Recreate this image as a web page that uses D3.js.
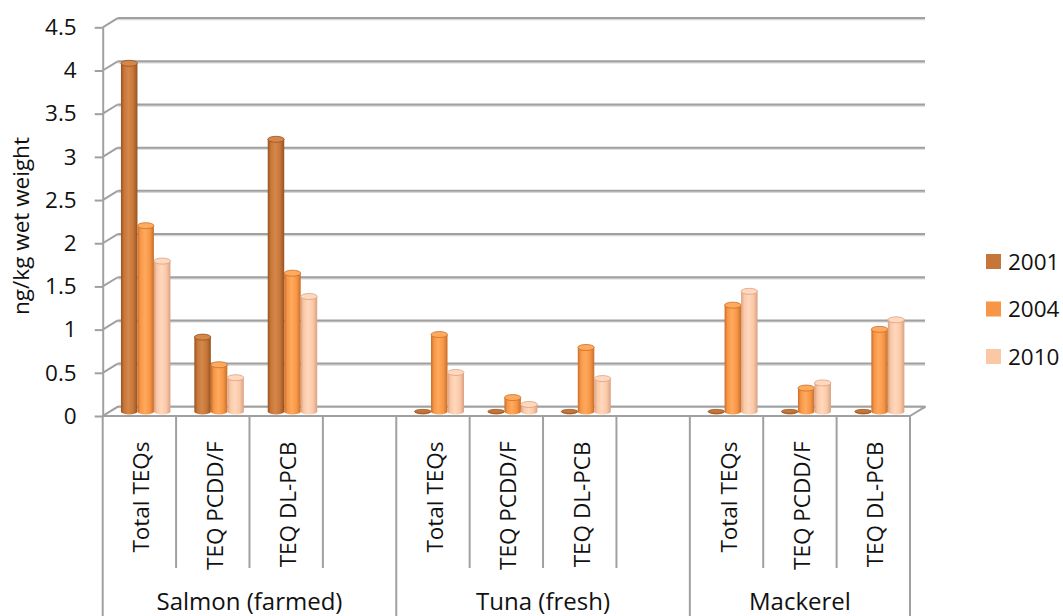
<!DOCTYPE html>
<html>
<head>
<meta charset="utf-8">
<script src="https://cdn.jsdelivr.net/npm/d3@7"></script>
<style>
  html, body { margin: 0; padding: 0; background: #fff; }
  svg { display: block; font-family: "Open Sans", "Liberation Sans", sans-serif; }
</style>
</head>
<body>
<svg id="chart" width="1063" height="616"></svg>
<script>
// ---- data ----
const groups = ["Salmon (farmed)", "Tuna (fresh)", "Mackerel"];
const measures = ["Total TEQs", "TEQ PCDD/F", "TEQ DL-PCB"];
const years = ["2001", "2004", "2010"];
// values in measure order for Salmon, Tuna, Mackerel (ng/kg wet weight)
const values2001 = [4.03, 0.86, 3.15, 0, 0, 0, 0, 0, 0];
const values2004 = [2.15, 0.54, 1.60, 0.89, 0.16, 0.74, 1.23, 0.27, 0.95];
const values2010 = [1.74, 0.39, 1.33, 0.45, 0.08, 0.38, 1.39, 0.33, 1.06];
const yTicks = [0, 0.5, 1, 1.5, 2, 2.5, 3, 3.5, 4, 4.5];
const yTitle = "ng/kg wet weight";

const seriesValues = [values2001, values2004, values2010];
const colors = ["#C67639", "#F79646", "#FBC8A6"];
const edgeColors = ["#96521F", "#C96E2A", "#D8A183"];
const lightColors = ["#D5874A", "#FFAA5E", "#FFD8BE"];

// ---- layout ----
const svg = d3.select("#chart");
const x0 = 102.7, x1 = 910;        // front floor edge
const yBase = 416;                 // front floor y
const DX = 15, DY = 9.2;           // depth of the back wall
const plotH = 388.7;               // height of 4.5 units

// category slots: each group's measures, with a blank slot between groups
const slots = [];
groups.forEach((g, gi) => {
  measures.forEach((m, mi) => slots.push({ key: g + "|" + m, group: g, measure: m, idx: gi * 3 + mi }));
  if (gi < groups.length - 1) slots.push({ key: g + "|", group: g, measure: null, idx: -1 });
});

const x = d3.scaleBand().domain(slots.map(s => s.key)).range([x0, x1]).padding(0);
const h = d3.scaleLinear().domain([0, 4.5]).range([0, plotH]);
const yFront = d3.scaleLinear().domain([0, 4.5]).range([yBase, yBase - plotH]);
const yBack = v => yBase - DY - h(v);

const gridColor = "#A0A0A0";

// back wall gridlines and side diagonals
const grid = svg.append("g");
yTicks.forEach(v => {
  grid.append("line")
    .attr("x1", x0 + DX).attr("x2", x1 + DX)
    .attr("y1", yBack(v) + 1.4).attr("y2", yBack(v) + 1.4)
    .attr("stroke", "#D6D6D6").attr("stroke-width", 1.6);
  grid.append("line")
    .attr("x1", x0 + DX).attr("x2", x1 + DX)
    .attr("y1", yBack(v)).attr("y2", yBack(v))
    .attr("stroke", gridColor).attr("stroke-width", 2);
  grid.append("line")
    .attr("x1", x0).attr("y1", yFront(v))
    .attr("x2", x0 + DX).attr("y2", yBack(v))
    .attr("stroke", gridColor).attr("stroke-width", 2);
});

// floor
svg.append("path")
  .attr("d", `M${x0},${yBase} L${x1},${yBase} L${x1 + DX},${yBase - DY} L${x0 + DX},${yBase - DY} Z`)
  .attr("fill", "#fff").attr("stroke", gridColor).attr("stroke-width", 2)
  .attr("stroke-linejoin", "round");

// front value axis
const yAxis = d3.axisLeft(yFront)
  .tickValues(yTicks)
  .tickSize(8)
  .tickSizeOuter(0)
  .tickPadding(18)
  .tickFormat(d3.format("~g"));
const yAxisG = svg.append("g").attr("transform", `translate(${x0},0)`).call(yAxis);
yAxisG.select(".domain").attr("stroke", gridColor).attr("stroke-width", 2);
yAxisG.selectAll(".tick line").attr("stroke", gridColor).attr("stroke-width", 2);
yAxisG.selectAll(".tick text")
  .attr("font-family", "Open Sans").attr("font-size", 22.5).attr("fill", "#111");

// y title
svg.append("text")
  .attr("transform", "translate(29,226) rotate(-90)")
  .attr("text-anchor", "middle")
  .attr("font-size", 22.5).attr("fill", "#111")
  .text(yTitle);

// category axis separators
const sepG = svg.append("g");
const boundaries = slots.map(s => x(s.key)).concat([x1]);
boundaries.forEach((bx, i) => {
  const isGroupEdge = i === 0 || i === boundaries.length - 1 ||
    (slots[i] && slots[i - 1] && slots[i].group !== slots[i - 1].group);
  sepG.append("line")
    .attr("x1", bx).attr("x2", bx)
    .attr("y1", yBase).attr("y2", isGroupEdge ? 616 : 568)
    .attr("stroke", gridColor).attr("stroke-width", 2);
});

// category labels
svg.append("g").selectAll("text")
  .data(slots.filter(s => s.measure))
  .join("text")
  .attr("transform", s => `translate(${x(s.key) + x.bandwidth() / 2 + 10},441.5) rotate(-90)`)
  .attr("text-anchor", "end")
  .attr("font-size", 22.5).attr("fill", "#111")
  .text(s => s.measure);

// group labels
svg.append("g").selectAll("text")
  .data(groups)
  .join("text")
  .attr("x", g => {
    const ks = slots.filter(s => s.group === g && s.measure);
    const start = x(ks[0].key);
    const idxLast = slots.findIndex(s => s.key === ks[ks.length - 1].key);
    const end = slots[idxLast + 1] ? x(slots[idxLast + 1].key) + (slots[idxLast + 1].measure ? 0 : x.bandwidth()) : x1;
    return (start + end) / 2;
  })
  .attr("y", 610)
  .attr("text-anchor", "middle")
  .attr("font-size", 24).attr("fill", "#111")
  .text(g => g);

// cylinder gradients
const defs = svg.append("defs");
years.forEach((yr, i) => {
  const gr = defs.append("linearGradient").attr("id", "cyl" + i)
    .attr("x1", "0").attr("x2", "1").attr("y1", "0").attr("y2", "0");
  gr.append("stop").attr("offset", "0").attr("stop-color", edgeColors[i]);
  gr.append("stop").attr("offset", "0.18").attr("stop-color", colors[i]);
  gr.append("stop").attr("offset", "0.45").attr("stop-color", lightColors[i]);
  gr.append("stop").attr("offset", "0.75").attr("stop-color", colors[i]);
  gr.append("stop").attr("offset", "1").attr("stop-color", edgeColors[i]);
});

// cylinders
const barW = 16.5, ry = 3;
const midDX = DX / 2 - 1.2, midDY = DY / 2;
const barBase = yBase - midDY;
const barsG = svg.append("g");
slots.filter(s => s.measure).forEach(s => {
  const cx0 = x(s.key) + x.bandwidth() / 2 + midDX - 1.5 * barW;
  seriesValues.forEach((vals, i) => {
    const v = vals[s.idx];
    const left = cx0 + i * barW;
    const cx = left + barW / 2;
    const top = barBase - h(v);
    const g = barsG.append("g");
    g.append("path")
      .attr("d", `M${left},${top} L${left},${barBase} A${barW / 2},${ry} 0 0 0 ${left + barW},${barBase} L${left + barW},${top} Z`)
      .attr("fill", `url(#cyl${i})`);
    g.append("ellipse")
      .attr("cx", cx).attr("cy", top)
      .attr("rx", barW / 2).attr("ry", v === 0 ? 2 : ry)
      .attr("fill", v === 0 ? colors[i] : lightColors[i])
      .attr("stroke", edgeColors[i]).attr("stroke-width", 0.8);
  });
});

// legend
const legend = svg.append("g");
years.forEach((yr, i) => {
  const cy = 261.5 + i * 47.5;
  legend.append("rect")
    .attr("x", 986).attr("y", cy - 7.5).attr("width", 15).attr("height", 15)
    .attr("fill", colors[i]);
  legend.append("text")
    .attr("x", 1008).attr("y", cy + 8)
    .attr("font-size", 22.5).attr("fill", "#111")
    .text(yr);
});
</script>
</body>
</html>
